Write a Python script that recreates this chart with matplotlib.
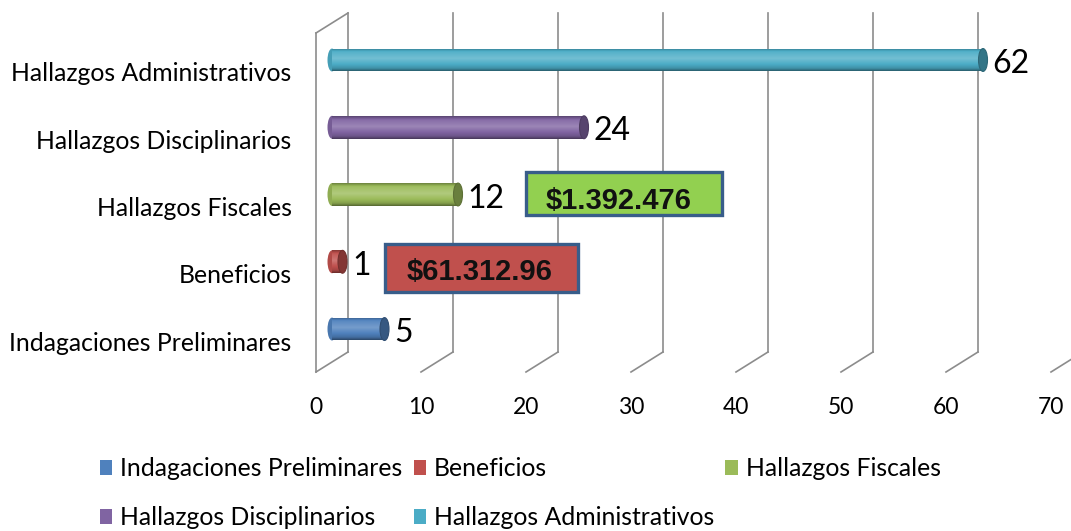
import numpy as np
import matplotlib
matplotlib.use("Agg")
import matplotlib.pyplot as plt
from matplotlib.patches import Ellipse, Rectangle, Patch
from matplotlib.lines import Line2D
from matplotlib.transforms import offset_copy, ScaledTranslation, IdentityTransform
from matplotlib.colors import to_rgb

# datos
categorias = ["Indagaciones Preliminares", "Beneficios", "Hallazgos Fiscales",
              "Hallazgos Disciplinarios", "Hallazgos Administrativos"]
valores = [5, 1, 12, 24, 62]
colores = ["#4F81BD", "#C0504D", "#9BBB59", "#8064A2", "#4BACC6"]
# montos (Beneficios, Hallazgos Fiscales)
montos = ["$61.312.96", "$1.392.476"]
montos_color = ["#C0504D", "#92D050"]
ticks_x = list(range(0, 71, 10))

plt.rcParams['font.family'] = ['Lato', 'DejaVu Sans']

W, H = 1071, 531
fig = plt.figure(figsize=(W / 100, H / 100), dpi=100)
ax = fig.add_axes([332 / W, (H - 362) / H, 735 / W, 339 / H])
ax.set_xlim(0, 70)
ax.set_ylim(-0.49, 4.55)
for s in ax.spines.values():
    s.set_visible(False)
ax.set_facecolor('none')

# paredes 3D (atras / frente)
gris = '#8c8c8c'
atras = offset_copy(ax.transData, fig=fig, x=16, y=10, units='dots')
frente = offset_copy(ax.transData, fig=fig, x=-16, y=-10, units='dots')
y0, y1 = ax.get_ylim()
for t in ticks_x:
    ax.plot([t, t], [y0, y1], color=gris, lw=1.2, transform=atras, clip_on=False, zorder=1)
    a = atras.transform((t, y0))
    b = frente.transform((t, y0))
    fig.add_artist(Line2D([a[0], b[0]], [a[1], b[1]], color=gris, lw=1.2,
                          transform=IdentityTransform()))
ax.plot([0, 0], [y0, y1], color=gris, lw=1.2, transform=frente, clip_on=False, zorder=1)
a = atras.transform((0, y1))
b = frente.transform((0, y1))
fig.add_artist(Line2D([a[0], b[0]], [a[1], b[1]], color=gris, lw=1.2,
                      transform=IdentityTransform()))

# barras tipo cilindro
h = 0.34
pos = np.arange(len(valores))
barras = ax.barh(pos, valores, height=h, color=colores, zorder=3)
tt = np.linspace(0, 1, 64)
luz = np.interp(tt, [0, 0.12, 0.55, 0.85, 1], [-0.45, -0.15, 0.22, 0.05, -0.3])
cap_w = 9 / 10.5
for i, (p, v, c) in enumerate(zip(barras, valores, colores)):
    base = np.array(to_rgb(c))
    grad = np.array([base + (1 - base) * l if l > 0 else base * (1 + l) for l in luz])
    ax.add_patch(Ellipse((0, i), cap_w, h, facecolor=base * 0.92, edgecolor='none',
                         zorder=2.9, clip_on=False))
    im = ax.imshow(grad[:, None, :], extent=[0, v, i - h / 2, i + h / 2], origin='lower',
                   aspect='auto', interpolation='bilinear', zorder=3.2)
    im.set_clip_path(p)
    ax.add_patch(Ellipse((v, i), cap_w, h, facecolor=base * 0.68, edgecolor=base * 0.6,
                         lw=0.8, zorder=3.5))
    ax.annotate(str(v), xy=(v, i), xytext=(7, -3), textcoords='offset points',
                va='center', ha='left', fontsize=23, color='black', zorder=5)
ax.set_xlim(0, 70)
ax.set_ylim(-0.49, 4.55)

# cuadros de montos
cajas = [(5.0, 0.554, 18.4, 0.716, 14.05, 0.85), (18.5, 1.69, 18.6, 0.65, 27.3, 1.91)]
for (x, y, w, hh, tx, ty), m, fc in zip(cajas, montos, montos_color):
    ax.add_patch(Rectangle((x, y), w, hh, facecolor=fc, edgecolor='#385D8A', lw=2.4, zorder=4))
    ax.text(tx, ty, m, ha='center', va='center', fontsize=21, fontweight='bold',
            family='Liberation Sans', color='#111111', zorder=5)

# ejes
ax.set_yticks(pos)
ax.set_yticklabels(categorias, fontsize=17.8)
ax.tick_params(axis='y', length=0, pad=29)
for lab in ax.get_yticklabels():
    lab.set_transform(lab.get_transform() + ScaledTranslation(0, -12 / 100, fig.dpi_scale_trans))
ax.set_xticks(ticks_x)
ax.set_xticklabels([str(t) for t in ticks_x], fontsize=16.5)
ax.tick_params(axis='x', length=0, pad=25)
for lab in ax.get_xticklabels():
    lab.set_transform(lab.get_transform() + ScaledTranslation(-16 / 100, 0, fig.dpi_scale_trans))

# leyenda (orden por filas como Excel)
orden = [0, 3, 1, 4, 2]
handles = [Patch(facecolor=colores[k], edgecolor='none') for k in orden]
fig.legend(handles, [categorias[k] for k in orden], ncol=3, loc='upper left',
           bbox_to_anchor=(100 / W, (H - 457) / H), frameon=False, fontsize=17.8,
           handlelength=0.5, handleheight=0.55, handletextpad=0.32,
           columnspacing=0.45, labelspacing=1.05, borderpad=0, borderaxespad=0)

fig.savefig('out.png', dpi=100)
